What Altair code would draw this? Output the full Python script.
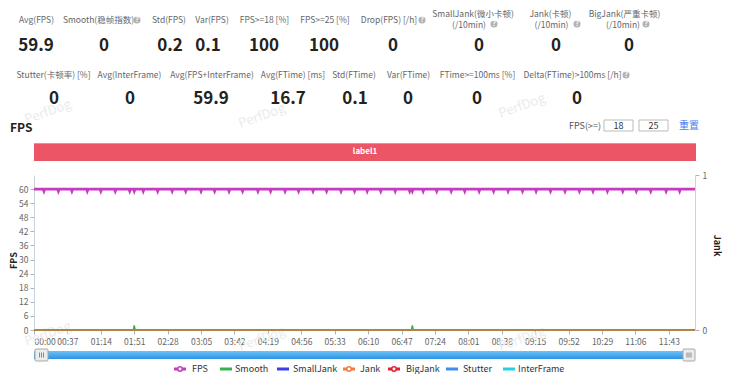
import altair as alt
import pandas as pd

FONT = "Noto Sans CJK SC"

# ---------------- data ----------------
series_names = ["FPS", "Smooth", "SmallJank", "Jank", "BigJank", "Stutter", "InterFrame"]
series_colors = ["#c63cc0", "#36b24f", "#3c3cf2", "#f57b3b", "#e3232c", "#3f8cf2", "#22d2e4"]

duration_s = 732
fps_level = 60
fps_dip_value = 59
fps_dip_times = [11, 27, 42, 59, 74, 90, 106, 111, 121, 137, 153, 168, 185, 200, 216, 231,
                 248, 262, 278, 293, 309, 324, 340, 355, 369, 384, 400, 416, 419, 431, 446,
                 462, 477, 493, 509, 525, 541, 556, 572, 588, 604, 619, 635, 652, 667, 683,
                 700, 715]
smooth_level = 0
smooth_spike_value = 2
smooth_spike_times = [111, 419]
flat_level = 0  # SmallJank, Jank, BigJank, Stutter, InterFrame stay at 0

x_tick_seconds = [0, 37, 74, 111, 148, 185, 222, 259, 296, 333, 370, 407, 444, 481,
                  518, 555, 592, 629, 666, 703]
fps_axis_ticks = [0, 6, 12, 18, 24, 30, 36, 42, 48, 54, 60]
fps_axis_max = 66
jank_axis_ticks = [0, 1]

row1_labels = ["Avg(FPS)", "Smooth(稳帧指数)", "Std(FPS)", "Var(FPS)", "FPS>=18 [%]",
               "FPS>=25 [%]", "Drop(FPS) [/h]", "SmallJank(微小卡顿)", "Jank(卡顿)",
               "BigJank(严重卡顿)"]
row1_sublabels = ["", "", "", "", "", "", "", "(/10min)", "(/10min)", "(/10min)"]
row1_values = ["59.9", "0", "0.2", "0.1", "100", "100", "0", "0", "0", "0"]
row2_labels = ["Stutter(卡顿率) [%]", "Avg(InterFrame)", "Avg(FPS+InterFrame)",
               "Avg(FTime) [ms]", "Std(FTime)", "Var(FTime)", "FTime>=100ms [%]",
               "Delta(FTime)>100ms [/h]"]
row2_values = ["0", "0", "59.9", "16.7", "0.1", "0", "0", "0"]
fps_thresholds = ["18", "25"]
band_label = "label1"

# ---------------- layout (page pixels) ----------------
OX, OY = 34, 175          # plot-area origin on the page
PLOT_W, PLOT_H = 661, 155

row1_label_x = [36.5, 98.5, 169, 212, 264.5, 325, 389, 473, 550.5, 624.5]
row1_sub_x = [0, 0, 0, 0, 0, 0, 0, 469, 551.5, 623]
row1_value_x = [36, 104, 170, 208, 264, 324, 393, 479, 556, 629]
row2_label_x = [53.5, 129.5, 212, 293, 354, 408.5, 477.5, 572.5]
row2_value_x = [54, 130, 211, 288, 355, 408, 477, 577]
help_icons = [(137, 20), (422, 20), (494, 24), (577, 24), (646, 24), (626, 75)]
legend_line_x = [174, 220, 277, 343, 388, 446, 503]
legend_text_x = [192, 235, 293, 360, 406, 463, 518]
legend_marker = [True, False, False, True, True, False, False]
legend_y = 369
watermarks = [(262, 116), (522, 106), (48, 112), (262, 339), (522, 339), (48, 334)]


def rel_x(v):
    return v - OX


def rel_y(v):
    return v - OY


one = pd.DataFrame({"k": [0]})


def text_df(items):
    return pd.DataFrame([{"px": rel_x(x), "py": rel_y(y), "text": t} for x, y, t in items])


def text_layer(df, **kw):
    return alt.Chart(df).mark_text(font=FONT, **kw).encode(
        x=alt.X("px:Q", scale=None, axis=None),
        y=alt.Y("py:Q", scale=None, axis=None),
        text="text:N",
    )


def rect_layer(x1, y1, x2, y2, **kw):
    return alt.Chart(one).mark_rect(**kw).encode(
        x=alt.value(rel_x(x1)), x2=alt.value(rel_x(x2)),
        y=alt.value(rel_y(y1)), y2=alt.value(rel_y(y2)),
    )


def rule_layer(x1, y1, x2, y2, **kw):
    return alt.Chart(one).mark_rule(**kw).encode(
        x=alt.value(rel_x(x1)), x2=alt.value(rel_x(x2)),
        y=alt.value(rel_y(y1)), y2=alt.value(rel_y(y2)),
    )


# ---------------- series tables ----------------
def with_spikes(level, spike_value, times):
    t, v = [0], [level]
    for s in times:
        t += [s - 1, s, s + 1]
        v += [level, spike_value, level]
    t.append(duration_s)
    v.append(level)
    return t, v


series_points = {
    "FPS": with_spikes(fps_level, fps_dip_value, fps_dip_times),
    "Smooth": with_spikes(smooth_level, smooth_spike_value, smooth_spike_times),
}
for name in ["SmallJank", "Jank", "BigJank", "Stutter", "InterFrame"]:
    series_points[name] = ([0, duration_s], [flat_level, flat_level])

color_of = dict(zip(series_names, series_colors))

x_axis = alt.Axis(
    values=x_tick_seconds,
    labelExpr="utcFormat(datum.value * 1000, '%M:%S')",
    labelFlush=True, labelOverlap=False,
    labelFont=FONT, labelFontSize=8.5, labelColor="#666", labelPadding=3,
    tickColor="#aab4c0", tickSize=4, domainColor="#9fd0ee", grid=False, title=None,
)
x_enc = alt.X("t:Q", scale=alt.Scale(domain=[0, duration_s], nice=False, zero=False), axis=x_axis)

left_axis = alt.Axis(
    values=fps_axis_ticks, labelFont=FONT, labelFontSize=8.5, labelColor="#666",
    labelPadding=2, tickColor="#aab4c0", tickSize=4, domainColor="#ccd3df", grid=False,
    labelOverlap=False,
    title="FPS", titleFont=FONT, titleFontSize=9, titleFontWeight="bold", titleColor="#222",
    titleAngle=270, titleX=-21, titleY=85, titleAlign="center", titleBaseline="middle",
)
right_axis = alt.Axis(
    orient="right", values=jank_axis_ticks, format="d", labelFont=FONT, labelFontSize=8.5,
    labelColor="#666", labelPadding=3, tickColor="#aab4c0", tickSize=4,
    domainColor="#ccd3df", grid=False,
    title="Jank", titleFont=FONT, titleFontSize=9, titleFontWeight="bold", titleColor="#222",
    titleAngle=90, titleX=21, titleY=70, titleAlign="center", titleBaseline="middle",
)

left_series = {"FPS", "Smooth", "Stutter", "InterFrame"}


def series_layer(name, width, opacity=1.0, axis=None):
    t, v = series_points[name]
    df = pd.DataFrame({"t": t, "v": v})
    if name in left_series:
        scale = alt.Scale(domain=[0, fps_axis_max], nice=False, zero=True)
    else:
        scale = alt.Scale(domain=[0, 1], nice=False, zero=True)
    return alt.Chart(df).mark_line(
        color=color_of[name], strokeWidth=width, opacity=opacity, interpolate="linear"
    ).encode(
        x=x_enc,
        y=alt.Y("v:Q", scale=scale, axis=axis),
    )


layers = []

# faint watermarks
layers.append(text_layer(text_df([(x, y, "PerfDog") for x, y in watermarks]),
                         fontSize=13, color="#ebebeb", angle=340, align="center", baseline="middle"))

# header statistic labels
lab_items = []
for i, lab in enumerate(row1_labels):
    if row1_sublabels[i]:
        lab_items.append((row1_label_x[i], 14, lab))
        lab_items.append((row1_sub_x[i], 24.5, row1_sublabels[i]))
    else:
        lab_items.append((row1_label_x[i], 20, lab))
for i, lab in enumerate(row2_labels):
    lab_items.append((row2_label_x[i], 75, lab))
layers.append(text_layer(text_df(lab_items), fontSize=8.5, color="#666",
                         align="center", baseline="middle"))

val_items = [(row1_value_x[i], 46, v) for i, v in enumerate(row1_values)]
val_items += [(row2_value_x[i], 99, v) for i, v in enumerate(row2_values)]
layers.append(text_layer(text_df(val_items), fontSize=17, fontWeight="bold", color="#222",
                         align="center", baseline="middle"))

# help icons
icon_df = text_df([(x, y, "?") for x, y in help_icons])
layers.append(alt.Chart(icon_df).mark_point(shape="circle", filled=True, color="#b3b3b3",
                                             size=50, opacity=1).encode(
    x=alt.X("px:Q", scale=None, axis=None), y=alt.Y("py:Q", scale=None, axis=None)))
layers.append(text_layer(icon_df, fontSize=7, fontWeight="bold", color="white",
                         align="center", baseline="middle"))

# section title and threshold controls
layers.append(text_layer(text_df([(10, 128, "FPS")]), fontSize=12, fontWeight="bold",
                         color="#222", align="left", baseline="middle"))
layers.append(text_layer(text_df([(569, 126, "FPS(>=)")]), fontSize=9, color="#555",
                         align="left", baseline="middle"))
for (bx1, bx2), val in zip([(604, 633), (639, 668)], fps_thresholds):
    layers.append(rect_layer(bx1, 120, bx2, 131, fill="white", stroke="#bbbbbb", strokeWidth=1))
    layers.append(text_layer(text_df([((bx1 + bx2) / 2, 126, val)]), fontSize=9,
                             color="#333", align="center", baseline="middle"))
layers.append(text_layer(text_df([(679, 126, "重置")]), fontSize=10, color="#4b7bec",
                         align="left", baseline="middle"))

# red label band
layers.append(rect_layer(34, 143, 696, 161, color="#ec5565"))
layers.append(rule_layer(34, 143.5, 696, 143.5, color="#f28a95", strokeWidth=1))
layers.append(text_layer(text_df([(365, 152, band_label)]), fontSize=8, fontWeight="bold",
                         color="white", align="center", baseline="middle"))

# series (draw order chosen to match overlaps in reference)
layers.append(series_layer("Stutter", 1.5))
layers.append(series_layer("InterFrame", 1.5))
layers.append(series_layer("SmallJank", 1.5))
layers.append(series_layer("BigJank", 1.5))
layers.append(series_layer("Smooth", 1.5))
layers.append(series_layer("Jank", 1.5, opacity=0.75, axis=right_axis))
layers.append(series_layer("FPS", 2.6, axis=left_axis))

# data-zoom slider
layers.append(rect_layer(34, 351, 695, 359, color=alt.LinearGradient(
    gradient="linear", x1=0, y1=0, x2=0, y2=1,
    stops=[alt.GradientStop(color="#6fc1f7", offset=0),
           alt.GradientStop(color="#2a94e6", offset=1)])))
for hx1, hx2 in [(35, 48), (683, 695)]:
    layers.append(rect_layer(hx1, 349, hx2, 361, fill="#ececec", stroke="#a8a8a8",
                             strokeWidth=1, cornerRadius=1))
    mid = (hx1 + hx2) / 2
    for dx in (-2, 0, 2):
        layers.append(rule_layer(mid + dx, 352.5, mid + dx, 357.5, color="#8a8a8a",
                                 strokeWidth=1))

# legend
leg_rows = []
for i, name in enumerate(series_names):
    leg_rows.append({
        "name": name,
        "x1": rel_x(legend_line_x[i]), "x2": rel_x(legend_line_x[i] + 12),
        "cx": rel_x(legend_line_x[i] + 6), "tx": rel_x(legend_text_x[i]),
        "py": rel_y(legend_y), "marker": legend_marker[i],
    })
leg_df = pd.DataFrame(leg_rows)
color_scale = alt.Scale(domain=series_names, range=series_colors)
layers.append(alt.Chart(leg_df).mark_rule(strokeWidth=3).encode(
    x=alt.X("x1:Q", scale=None, axis=None), x2="x2:Q",
    y=alt.Y("py:Q", scale=None, axis=None),
    color=alt.Color("name:N", scale=color_scale, legend=None)))
layers.append(alt.Chart(leg_df[leg_df["marker"]]).mark_point(
    shape="circle", filled=False, fill="white", fillOpacity=1, size=20, strokeWidth=1.5,
    opacity=1).encode(
    x=alt.X("cx:Q", scale=None, axis=None),
    y=alt.Y("py:Q", scale=None, axis=None),
    color=alt.Color("name:N", scale=color_scale, legend=None)))
layers.append(alt.Chart(leg_df).mark_text(font=FONT, fontSize=9, color="#333", align="left",
                                          baseline="middle").encode(
    x=alt.X("tx:Q", scale=None, axis=None),
    y=alt.Y("py:Q", scale=None, axis=None),
    text="name:N"))

chart = alt.layer(*layers).resolve_scale(y="independent").properties(
    width=PLOT_W, height=PLOT_H,
    padding={"left": 26, "top": 167, "right": 27, "bottom": 44},
    autosize=alt.AutoSizeParams(type="none"),
    background="white",
).configure_view(stroke=None)

chart.save("out.html", embed_options={"renderer": "svg", "actions": False})
